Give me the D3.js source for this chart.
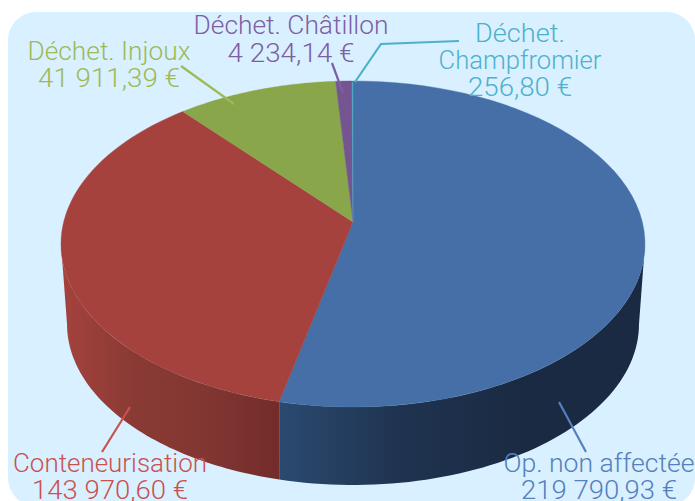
<!DOCTYPE html>
<html><head><meta charset="utf-8">
<script src="https://cdn.jsdelivr.net/npm/d3@7"></script>
<style>html,body{margin:0;background:#fff}svg{display:block}text{font-family:Roboto,"Liberation Sans",sans-serif;font-weight:300}</style>
</head><body><svg id="c" width="695" height="501"></svg>
<script>
const categories=["Op. non affectée","Conteneurisation","Déchet. Injoux","Déchet. Châtillon","Déchet. Champfromier"];
const values=[219790.93,143970.60,41911.39,4234.14,256.80];
const valueLabels=["219 790,93 €","143 970,60 €","41 911,39 €","4 234,14 €","256,80 €"];
const topColors=["#456fa6","#a5423e","#8aa64a","#75558f","#4aa8c4"];
const textColors=["#5480bd","#c9524f","#9dba55","#7f5ea3","#4fb0cc"];
const wallStops=[["#2b4a70","#1f3350","#1a2a42","#1a2a42"],["#a5423e","#8a3a34","#823632","#732c2a"]];

const W=695,H=501,cx=353,cy=244,rx=292,ry=163,apexY=222,k=ry/rx;
const bottomCy=324,bottomRx=286,bottomRy=161;
const svg=d3.select("#c");
const defs=svg.append("defs");
svg.append("rect").attr("x",8).attr("y",12).attr("width",687).attr("height",494).attr("rx",28).attr("fill","#d8f0ff");

const arcs=d3.pie().sort(null).value(d=>d)(values);
// rim point for a pie angle: a ray from the off-centre apex meets the ellipse
function rim(a){
  const dx=Math.sin(a),dy=-k*Math.cos(a),oy=apexY-cy;
  const A=dx*dx/(rx*rx)+dy*dy/(ry*ry),B=2*oy*dy/(ry*ry),C=oy*oy/(ry*ry)-1;
  const t=(-B+Math.sqrt(B*B-4*A*C))/(2*A);
  return [cx+t*dx,apexY+t*dy];
}
const samples=(a0,a1)=>d3.range(0,61).map(i=>rim(a0+(a1-a0)*i/60));
const line=d3.line();
const topFront=(t)=>[cx+rx*Math.cos(t),cy+ry*Math.sin(t)];
const bottomFront=(t)=>[cx+bottomRx*Math.cos(t),bottomCy+bottomRy*Math.sin(t)];

// side wall: the two front slices, split where the blue/red boundary meets the rim
const split=rim(arcs[0].endAngle);
const tTop=Math.acos((split[0]-cx)/rx), tBot=Math.acos((split[0]-cx)/bottomRx);
const g=svg.append("g");
[[0,279,645,0,tTop,0,tBot],[1,61,279,tTop,Math.PI,tBot,Math.PI]].forEach(([i,x0,x1,a0,a1,b0,b1])=>{
  const gr=defs.append("linearGradient").attr("id","w"+i).attr("gradientUnits","userSpaceOnUse").attr("x1",x0).attr("x2",x1).attr("y1",0).attr("y2",0);
  wallStops[i].forEach((c,j)=>gr.append("stop").attr("offset",j/3).attr("stop-color",c));
  const tp=d3.range(0,61).map(j=>topFront(a0+(a1-a0)*j/60));
  const bt=d3.range(0,61).map(j=>bottomFront(b1+(b0-b1)*j/60));
  g.append("path").attr("d",line(tp.concat(bt))+"Z").attr("fill",`url(#w${i})`);
});
// top faces
arcs.forEach((d,i)=>{
  const poly=[[cx,apexY]].concat(samples(d.startAngle,d.endAngle));
  g.append("path").attr("d",line(poly)+"Z").attr("fill",topColors[i]).attr("stroke",topColors[i]).attr("stroke-width",0.4);
});

// leader lines and labels
const leaders=[[[559,402],[586,452]],[[130,407],[102,452]],[[234,104],[181,66]],[[343,93],[332,63]],[[355,82],[381,44],[459,41]]];
leaders.forEach((l,i)=>svg.append("path").attr("d",line(l)).attr("fill","none").attr("stroke",textColors[i]).attr("stroke-width",2.2));

const labels=[
 {i:0,x:599,lines:[[categories[0],472,191],[valueLabels[0],499,156]]},
 {i:1,x:110,lines:[[categories[1],472,194],[valueLabels[1],499,156]]},
 {i:2,x:109,lines:[[categories[2],60,163],[valueLabels[2],87,142]]},
 {i:3,x:291,lines:[[categories[3],34,195],[valueLabels[3],62,127]]},
 {i:4,x:520,lines:[["Déchet.",42,90],["Champfromier",69,163],[valueLabels[4],96,104]]}
];
labels.forEach(L=>L.lines.forEach(([t,y,w])=>svg.append("text").attr("x",L.x).attr("y",y).attr("text-anchor","middle")
  .attr("font-size",25).attr("fill",textColors[L.i]).attr("textLength",w).attr("lengthAdjust","spacingAndGlyphs").text(t)));
</script></body></html>
